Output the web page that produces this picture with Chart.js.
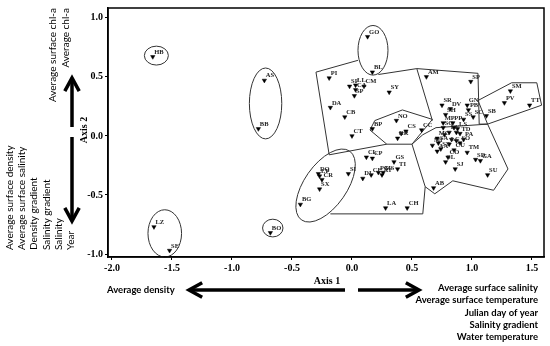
<!DOCTYPE html>
<html>
<head>
<meta charset="utf-8">
<script src="https://cdn.jsdelivr.net/npm/chart.js@4.4.1/dist/chart.umd.min.js"></script>
<style>
  html, body { margin: 0; padding: 0; background: #fff; }
  #wrap { width: 550px; height: 346px; }
</style>
</head>
<body>
<div id="wrap"><canvas id="myChart" width="550" height="346"></canvas></div>
<script>
// site scores (axis 1, axis 2)
const siteNames = ['HB', 'AS', 'BB', 'LZ', 'SE', 'BO', 'GO', 'BL', 'PI', 'LL', 'SF', 'CA', 'SP', 'CM', 'SY', 'DA', 'CB', 'CT',
    'BP', 'NO', 'CS', '', 'RR', 'AM', 'SP', 'SM', 'PV', 'TT', 'SR', 'DV', 'GN', 'PB', 'SH', 'SS', 'SC', 'SB', 'MP', 'PP',
    'CC', 'SG', 'LS', 'EF', 'MC', 'TD', 'PA', 'SO', 'MI', 'SA', 'LC', 'AA', 'ST', 'CU', 'TM', 'CO', 'SL', 'SD', 'GA', 'SJ',
    'SU', 'AB', 'CL', 'CP', 'GS', 'TI', 'CE', 'PG', 'MS', 'AT', 'DI', 'LA', 'CH', 'SI', 'DQ', 'LP', 'CR', 'SX', 'BG',
    '', '', '', '', ''];
const axis1 = [-1.66, -0.73, -0.78, -1.65, -1.52, -0.68, 0.13, 0.17, -0.19, 0.03, -0.02, 0.03, 0.02, 0.10, 0.31, -0.18, -0.06, 0.00,
    0.17, 0.37, 0.45, 0.41, 0.38, 0.62, 0.99, 1.32, 1.27, 1.48, 0.75, 0.82, 0.96, 0.97, 0.78, 0.93, 1.01, 1.12, 0.76, 0.84,
    0.58, 0.76, 0.88, 0.81, 0.71, 0.90, 0.93, 0.90, 0.67, 0.72, 0.81, 0.71, 0.74, 0.85, 0.96, 0.80, 0.78, 1.03, 1.07, 0.86,
    1.13, 0.68, 0.12, 0.17, 0.35, 0.38, 0.16, 0.22, 0.26, 0.25, 0.09, 0.28, 0.46, -0.03, -0.28, -0.27, -0.25, -0.27, -0.43,
    0.85, 0.87, 0.83, 0.87, 0.77];
const axis2 = [0.67, 0.47, 0.06, -0.77, -0.97, -0.82, 0.84, 0.54, 0.49, 0.43, 0.42, 0.39, 0.34, 0.42, 0.37, 0.24, 0.16, 0.00,
    0.06, 0.13, 0.04, 0.02, -0.02, 0.50, 0.46, 0.38, 0.28, 0.26, 0.26, 0.23, 0.26, 0.22, 0.18, 0.14, 0.16, 0.17, 0.11, 0.11,
    0.05, 0.07, 0.06, 0.03, -0.02, 0.02, -0.03, -0.06, -0.08, -0.06, -0.07, -0.13, -0.11, -0.12, -0.14, -0.18, -0.22, -0.20, -0.21, -0.28,
    -0.33, -0.44, -0.18, -0.19, -0.22, -0.28, -0.33, -0.31, -0.31, -0.33, -0.36, -0.61, -0.61, -0.32, -0.32, -0.34, -0.37, -0.45, -0.58,
    0.07, 0.03, -0.03, -0.04, 0.01];

// group outlines, in axis units
const outlineUpperLeft = [[0.05, 0.64], [-0.30, 0.54], [-0.19, -0.16], [0.29, -0.07]];
const outlineTop = [[0.22, 0.52], [0.54, 0.57], [1.05, 0.53], [1.06, 0.10], [1.13, 0.10]];
const outlineDivide = [[0.54, 0.57], [0.67, 0.13]];
const outlineHex = [[0.15, 0.05], [0.19, 0.13], [0.42, 0.22], [0.67, 0.14], [0.50, -0.07], [0.29, -0.07], [0.15, 0.05]];
const outlineRight = [[1.05, 0.30], [1.33, 0.45], [1.54, 0.45], [1.58, 0.26], [1.13, 0.10], [1.05, 0.30]];
const outlineCluster = [[0.50, -0.07], [0.59, 0.01], [0.70, 0.07], [1.13, 0.10], [1.30, -0.28], [1.18, -0.46], [0.84, -0.38],
    [0.69, -0.49], [0.61, -0.43], [0.50, -0.07]];
const outlineLower = [[-0.18, -0.66], [0.59, -0.66], [0.61, -0.43]];

// ellipses: centre x, centre y, half width, half height (axis units), tilt in degrees
const ellipseCx = [-1.63, -0.72, 0.175, -1.56, -0.66, -0.22];
const ellipseCy = [0.68, 0.275, 0.725, -0.825, -0.78, -0.42];
const ellipseRx = [0.10, 0.135, 0.125, 0.14, 0.085, 0.35];
const ellipseRy = [0.08, 0.30, 0.21, 0.20, 0.075, 0.18];
const ellipseTilt = [0, 0, 0, 0, 0, -55];

const xTickStep = 0.5;
const yTickStep = 0.5;

const leftTopTexts = ['Average surface chl-a', 'Average chl-a'];
const leftBottomTexts = ['Average surface density', 'Average surface salinity', 'Density gradient', 'Salinity gradient', 'Salinity', 'Year'];
const rightTexts = ['Average surface salinity', 'Average surface temperature', 'Julian day of year', 'Salinity gradient', 'Water temperature'];

const pts = axis1.map((x, i) => ({ x: x, y: axis2[i] }));
const toXY = arr => arr.map(p => ({ x: p[0], y: p[1] }));

const serif = '"Liberation Serif", "Times New Roman", serif';
const sans = 'Lato, "Open Sans", sans-serif';

function outline(arr) {
    return {
        type: 'scatter',
        data: toXY(arr),
        showLine: true,
        borderColor: '#333',
        borderWidth: 1,
        pointRadius: 0,
        fill: false,
        order: 2
    };
}

function arrow(ctx, x1, y1, x2, y2) {
    // shaft from (x1,y1) to tip (x2,y2), open chevron head
    const a = Math.atan2(y2 - y1, x2 - x1);
    const h = 15;
    ctx.beginPath();
    ctx.moveTo(x1, y1);
    ctx.lineTo(x2 - Math.cos(a) * 2, y2 - Math.sin(a) * 2);
    ctx.stroke();
    ctx.beginPath();
    ctx.moveTo(x2 - h * Math.cos(a - 0.5), y2 - h * Math.sin(a - 0.5));
    ctx.lineTo(x2, y2);
    ctx.lineTo(x2 - h * Math.cos(a + 0.5), y2 - h * Math.sin(a + 0.5));
    ctx.stroke();
}

const decor = {
    id: 'decor',
    afterDatasetsDraw(chart) {
        const ctx = chart.ctx;
        const xs = chart.scales.x, ys = chart.scales.y;
        const ca = chart.chartArea;
        ctx.save();
        // ellipses
        ctx.strokeStyle = '#333';
        ctx.lineWidth = 1;
        for (let i = 0; i < ellipseCx.length; i++) {
            const cx = xs.getPixelForValue(ellipseCx[i]);
            const cy = ys.getPixelForValue(ellipseCy[i]);
            const rx = Math.abs(xs.getPixelForValue(ellipseCx[i] + ellipseRx[i]) - cx);
            const ry = Math.abs(ys.getPixelForValue(ellipseCy[i] + ellipseRy[i]) - cy);
            ctx.beginPath();
            ctx.ellipse(cx, cy, rx, ry, ellipseTilt[i] * Math.PI / 180, 0, Math.PI * 2);
            ctx.stroke();
        }
        // site labels
        ctx.fillStyle = '#222';
        ctx.font = 'bold 6.5px ' + serif;
        ctx.textAlign = 'left';
        ctx.textBaseline = 'alphabetic';
        const meta = chart.getDatasetMeta(0);
        meta.data.forEach((el, i) => {
            if (siteNames[i]) ctx.fillText(siteNames[i], el.x + 1.5, el.y - 3);
        });
        // frame
        ctx.strokeStyle = '#000';
        ctx.lineWidth = 1.5;
        ctx.strokeRect(ca.left, ca.top, ca.right - ca.left, ca.bottom - ca.top);
        ctx.restore();
    },
    afterDraw(chart) {
        const ctx = chart.ctx;
        ctx.save();
        ctx.fillStyle = '#000';
        ctx.strokeStyle = '#000';
        ctx.lineWidth = 3.5;
        ctx.lineCap = 'butt';
        arrow(ctx, 72, 127, 72, 78);
        arrow(ctx, 72, 137, 72, 221);
        arrow(ctx, 345, 290, 189, 290);
        arrow(ctx, 358, 290, 419, 290);

        // axis titles
        ctx.font = 'bold 10px ' + serif;
        ctx.textAlign = 'center';
        ctx.textBaseline = 'middle';
        ctx.fillText('Axis 1', 327, 281);
        ctx.save();
        ctx.translate(84, 130);
        ctx.rotate(-Math.PI / 2);
        ctx.fillText('Axis 2', 0, 0);
        ctx.restore();

        // variable names
        ctx.font = '10px ' + sans;
        ctx.textBaseline = 'middle';
        const topCols = [53, 66];
        leftTopTexts.forEach((t, i) => {
            ctx.save();
            ctx.translate(topCols[i], 8);
            ctx.rotate(-Math.PI / 2);
            ctx.textAlign = 'right';
            ctx.fillText(t, 0, 0);
            ctx.restore();
        });
        leftBottomTexts.forEach((t, i) => {
            ctx.save();
            ctx.translate(10 + i * 12.1, 250);
            ctx.rotate(-Math.PI / 2);
            ctx.textAlign = 'left';
            ctx.fillText(t, 0, 0);
            ctx.restore();
        });
        ctx.font = 'bold 9.5px ' + sans;
        ctx.textAlign = 'left';
        ctx.fillText('Average density', 107, 290);
        ctx.textAlign = 'right';
        rightTexts.forEach((t, i) => {
            ctx.fillText(t, 538, 288 + i * 12.3);
        });
        ctx.restore();
    }
};

const ctx = document.getElementById('myChart').getContext('2d');

const chart = new Chart(ctx, {
    type: 'scatter',
    data: {
        datasets: [
            {
                data: pts,
                pointStyle: 'triangle',
                rotation: 180,
                radius: 2.5,
                backgroundColor: '#000',
                borderColor: '#000',
                borderWidth: 0.5,
                order: 1
            },
            outline(outlineUpperLeft),
            outline(outlineTop),
            outline(outlineDivide),
            outline(outlineHex),
            outline(outlineRight),
            outline(outlineCluster),
            outline(outlineLower)
        ]
    },
    options: {
        responsive: false,
        animation: false,
        layout: {
            padding: { left: 78, right: 6, top: 4, bottom: 69 }
        },
        scales: {
            x: {
                type: 'linear',
                min: -2.033,
                max: 1.6,
                afterFit: (scale) => { scale.height = 20; },
                grid: { drawOnChartArea: false, drawTicks: true, tickLength: 3, color: '#000' },
                border: { display: true, color: '#000', width: 1.5 },
                ticks: {
                    stepSize: xTickStep,
                    includeBounds: false,
                    padding: 2,
                    color: '#000',
                    font: { family: serif, size: 10, weight: 'bold' },
                    callback: v => v.toFixed(1),
                    maxRotation: 0
                }
            },
            y: {
                type: 'linear',
                min: -1.025,
                max: 1.083,
                afterFit: (scale) => { scale.width = 30; },
                grid: { drawOnChartArea: false, drawTicks: true, tickLength: 3, color: '#000' },
                border: { display: true, color: '#000', width: 1.5 },
                ticks: {
                    stepSize: yTickStep,
                    includeBounds: false,
                    padding: 2,
                    color: '#000',
                    font: { family: serif, size: 10, weight: 'bold' },
                    callback: v => v.toFixed(1)
                }
            }
        },
        plugins: {
            legend: { display: false },
            tooltip: { enabled: false }
        }
    },
    plugins: [decor]
});
</script>
</body>
</html>
